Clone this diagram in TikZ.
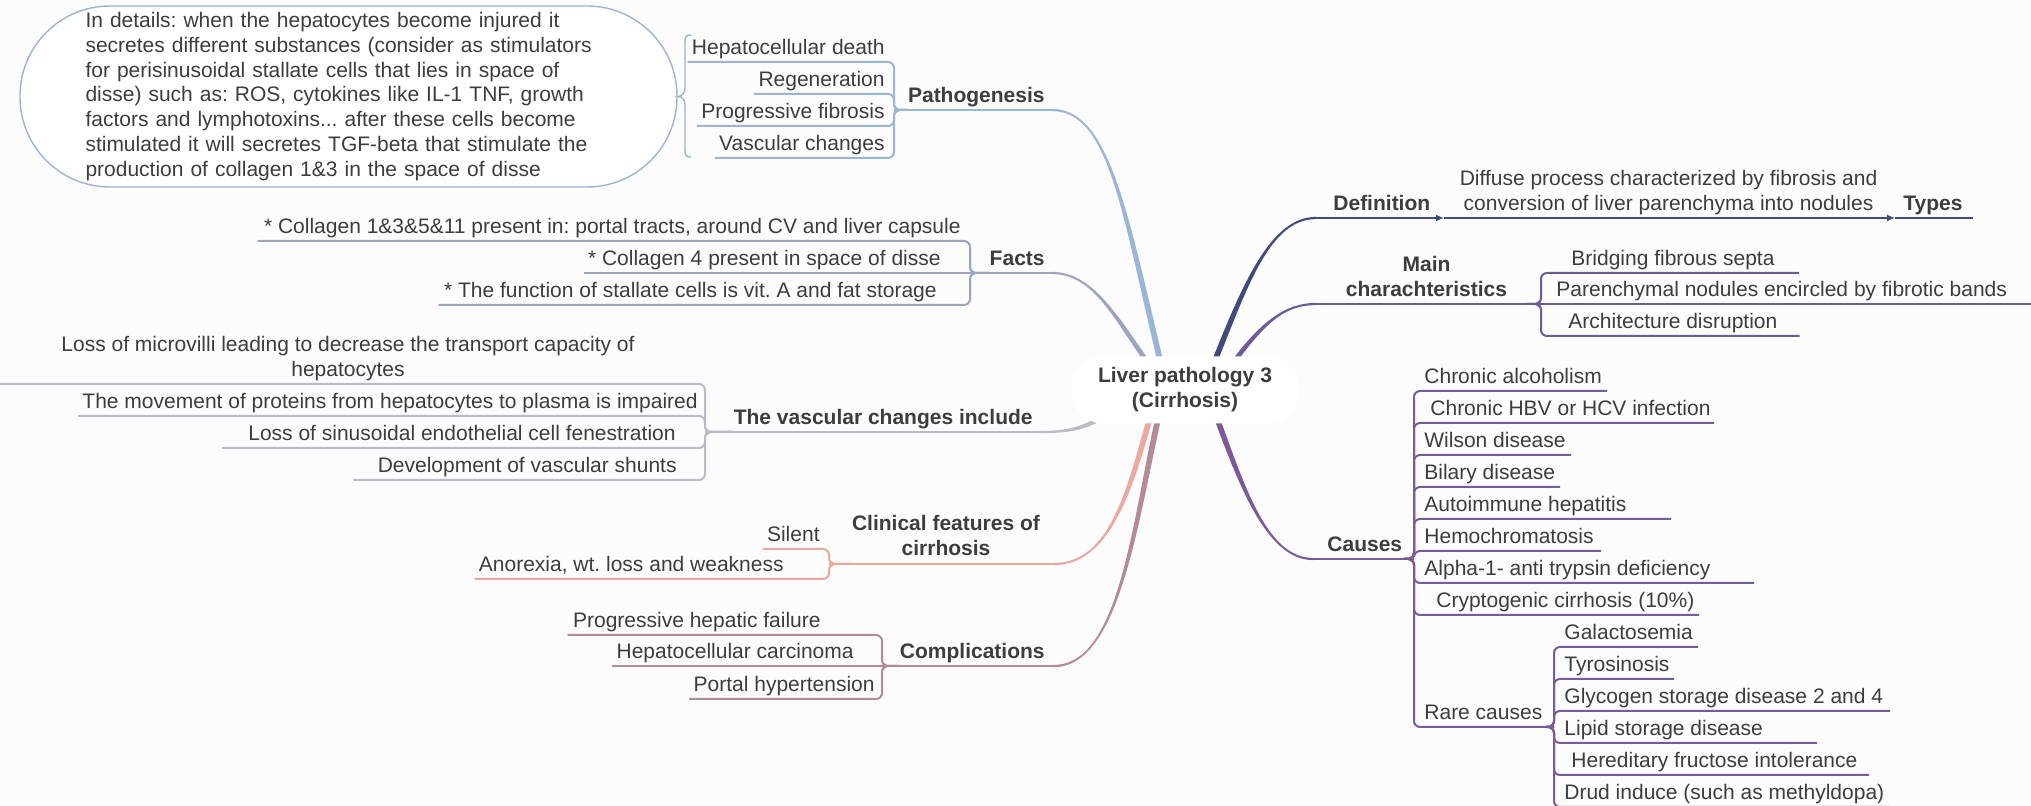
\documentclass[tikz,border=0pt]{standalone}
\usepackage{fontspec}
\setmainfont{Liberation Sans}
\usetikzlibrary{calc,arrows.meta}
\definecolor{bg}{HTML}{FCFCFD}
\definecolor{txt}{HTML}{3D3D3D}
\definecolor{cPath}{HTML}{9AB5D6}
\definecolor{cFact}{HTML}{9BA4C1}
\definecolor{cVasc}{HTML}{BDB9C6}
\definecolor{cClin}{HTML}{EBA89E}
\definecolor{cComp}{HTML}{B38A96}
\definecolor{cDef}{HTML}{414A7C}
\definecolor{cMain}{HTML}{6B5B9C}
\definecolor{cCause}{HTML}{7B5A97}
\frenchspacing
\tikzset{
 ch/.style={inner sep=0pt, text height=7.7pt, text depth=3.5pt, font=\fontsize{10.5}{12.5}\selectfont, text=txt},
 par/.style={inner sep=0pt, text height=7.7pt, text depth=3.5pt, font=\bfseries\fontsize{10.5}{12.5}\selectfont, text=txt},
 parm/.style={inner sep=0pt, align=center, font=\bfseries\fontsize{10.5}{12.5}\selectfont, text=txt},
 chm/.style={inner sep=0pt, align=center, font=\fontsize{10.5}{12.5}\selectfont, text=txt},
 ul/.style={line width=1pt, rounded corners=3pt},
 topline/.style={line width=1pt},
 ptr/.style={line width=1pt, -{Latex[length=4pt,width=3.5pt]}},
}
% tapered main branch: color, start, c1, c2, end, start offset, end offset
\newcommand\taper[7]{%
  \fill[#1] ($(#2)+(#6)$) .. controls ($(#3)+(#6)$) and ($(#4)+(#7)$) .. ($(#5)+(#7)$)
     -- ($(#5)-(#7)$) .. controls ($(#4)-(#7)$) and ($(#3)-(#6)$) .. ($(#2)-(#6)$) -- cycle;}
\newcommand\knob[2]{\fill[#1] (#2) circle[radius=2.6];}
\begin{document}
\begin{tikzpicture}[x=0.5pt,y=-0.5pt]
\useasboundingbox (0,0) rectangle (2031,806);
\fill[bg] (0,0) rectangle (2031,806);
\clip (0,0) rectangle (2031,806);
\coordinate (rootc) at (1185,390);

% ---------------- main branches ----------------
\coordinate (pE) at (1052,110);
\coordinate (fE) at (1052,273);
\coordinate (vE) at (1040,432);
\coordinate (cE) at (1054,564);
\coordinate (mE) at (1054,666);
\coordinate (dE) at (1316,218);
\coordinate (mcE) at (1316,304);
\coordinate (caE) at (1313,559);

\taper{cPath}{$(rootc)+(-23,-22)$}{1125,215}{1110,110}{pE}{3,0}{0,-1.1}
\taper{cFact}{$(rootc)+(-32,-20)$}{1118,322}{1095,273}{fE}{3,0}{0,-1.1}
\taper{cVasc}{$(rootc)+(-75,22)$}{1085,430}{1065,432}{vE}{1.4,1.9}{0,1.1}
\taper{cClin}{$(rootc)+(-33,20)$}{1130,490}{1110,564}{cE}{3,0}{0,1.1}
\taper{cComp}{$(rootc)+(-25,20)$}{1135,520}{1120,666}{mE}{3,0}{0,1.1}
\taper{cDef}{$(rootc)+(27,-22)$}{1245,285}{1270,218}{dE}{-3,0}{0,-1.1}
\taper{cMain}{$(rootc)+(43,-20)$}{1262,322}{1285,304}{mcE}{-3,0}{0,-1.1}
\taper{cCause}{$(rootc)+(27,15)$}{1240,480}{1265,559}{caE}{-3,0}{0,1.1}

% ---------------- Pathogenesis ----------------
\node[par, anchor=south east] (path) at (1045,110) {Pathogenesis};
\coordinate (pT) at (894,110);
\draw[cPath, topline] (pT) -- (pE);
\node[ch, anchor=south east] (p1) at (885,62) {Hepatocellular death};
\node[ch, anchor=south east] (p2) at (885,94) {Regeneration};
\node[ch, anchor=south east] (p3) at (885,126) {Progressive fibrosis};
\node[ch, anchor=south east] (p4) at (885,158) {Vascular changes};
\foreach \n in {p1,p2,p3,p4}
  \draw[cPath, ul] ($(\n.south west)+(-4,0)$) -- (\n.south -| pT) -- (pT) -- (path.south west);
\knob{cPath}{$(pT)+(2.5,0)$}

\node[draw=cPath, line width=0.7pt, fill=white, rounded corners=45pt, minimum width=328.5pt,
  minimum height=90.5pt, inner sep=0pt, text width=263pt, align=left,
  font=\fontsize{10.5}{12.4}\selectfont, text=txt] (sum) at (348.5,96.5)
  {In details: when the hepatocytes become injured it\\
   secretes different substances (consider as stimulators\\
   for perisinusoidal stallate cells that lies in space of\\
   disse) such as: ROS, cytokines like IL-1 TNF, growth\\
   factors and lymphotoxins... after these cells become\\
   stimulated it will secretes TGF-beta that stimulate the\\
   production of collagen 1\&3 in the space of disse};
\coordinate (brT) at (691,35);
\coordinate (brB) at (691,157);
\draw[cPath, line width=0.7pt] (brT) .. controls (686,35) and (685,37) .. (685,42) -- (685,88)
  .. controls (685,93) and (682,96.5) .. (sum.east)
  .. controls (682,96.5) and (685,100) .. (685,105) -- (685,150)
  .. controls (685,155) and (686,157) .. (brB);

% ---------------- Facts ----------------
\node[par, anchor=south east] (facts) at (1045,273) {Facts};
\coordinate (fT) at (970,273);
\draw[cFact, topline] (fT) -- (fE);
\node[ch, anchor=south east] (f1) at (961,241) {* Collagen 1\&3\&5\&11 present in: portal tracts, around CV and liver capsule};
\node[ch, anchor=south east] (f2) at (941,273) {* Collagen 4 present in space of disse};
\node[ch, anchor=south east] (f3) at (937,305) {* The function of stallate cells is vit. A and fat storage};
\draw[cFact, ul] ($(f1.south west)+(-6,0)$) -- (f1.south -| fT) -- (fT) -- (facts.south west);
\draw[cFact, ul] ($(f2.south west)+(-4,0)$) -- (fT);
\draw[cFact, ul] ($(f3.south west)+(-5,0)$) -- (f3.south -| fT) -- (fT) -- (facts.south west);
\knob{cFact}{$(fT)+(2.5,0)$}

% ---------------- Vascular changes ----------------
\node[par, anchor=south east] (vas) at (1033,432) {The vascular changes include};
\coordinate (vT) at (705,432);
\draw[cVasc, topline] (vT) -- (vE);
\node[chm] (v1) at (348,359) {Loss of microvilli leading to decrease the transport capacity of\\hepatocytes};
\coordinate (v1L) at (0,384);
\node[ch, anchor=south east] (v2) at (698,416) {The movement of proteins from hepatocytes to plasma is impaired};
\node[ch, anchor=south east] (v3) at (676,448) {Loss of sinusoidal endothelial cell fenestration};
\node[ch, anchor=south east] (v4) at (677,480) {Development of vascular shunts};
\draw[cVasc, ul] (v1L) -- (v1L -| vT) -- (vT) -- (vas.south west);
\draw[cVasc, ul] ($(v2.south west)+(-4,0)$) -- (v2.south -| vT) -- (vT) -- (vas.south west);
\draw[cVasc, ul] ($(v3.south west)+(-26,0)$) -- (v3.south -| vT) -- (vT) -- (vas.south west);
\draw[cVasc, ul] ($(v4.south west)+(-24,0)$) -- (v4.south -| vT) -- (vT) -- (vas.south west);
\knob{cVasc}{$(vT)+(2.5,0)$}

% ---------------- Clinical features ----------------
\node[parm] (clin) at (946,535) {Clinical features of\\cirrhosis};
\coordinate (cT) at (829,564);
\draw[cClin, topline] (cT) -- (cE);
\node[ch, anchor=south east] (c1) at (820,549) {Silent};
\node[ch, anchor=south east] (c2) at (784,579) {Anorexia, wt. loss and weakness};
\draw[cClin, ul] ($(c1.south west)+(-4,0)$) -- (c1.south -| cT) -- (cT) -- (cT -| clin.west);
\draw[cClin, ul] ($(c2.south west)+(-4,0)$) -- (c2.south -| cT) -- (cT) -- (cT -| clin.west);
\knob{cClin}{$(cT)+(2.5,0)$}

% ---------------- Complications ----------------
\node[par, anchor=south east] (comp) at (1045,666) {Complications};
\coordinate (mT) at (882,666);
\draw[cComp, topline] (mT) -- (mE);
\node[ch, anchor=south east] (k1) at (821,635) {Progressive hepatic failure};
\node[ch, anchor=south east] (k2) at (854,666) {Hepatocellular carcinoma};
\node[ch, anchor=south east] (k3) at (875,699) {Portal hypertension};
\draw[cComp, ul] ($(k1.south west)+(-5,0)$) -- (k1.south -| mT) -- (mT) -- (comp.south west);
\draw[cComp, ul] ($(k2.south west)+(-4,0)$) -- (mT);
\draw[cComp, ul] ($(k3.south west)+(-4,0)$) -- (k3.south -| mT) -- (mT) -- (comp.south west);
\knob{cComp}{$(mT)+(2.5,0)$}

% ---------------- Definition ----------------
\node[par, anchor=south west] (def) at (1333,218) {Definition};
\coordinate (dA) at (1444,218);
\node[chm] (dd) at (1668.5,193) {Diffuse process characterized by fibrosis and\\conversion of liver parenchyma into nodules};
\coordinate (dB) at (1895,218);
\node[par, anchor=south west] (types) at (1903,218) {Types};
\draw[cDef, ptr] (dE) -- (dA);
\draw[cDef, ptr] (dA) -- (dB);
\draw[cDef, topline] (dB) -- ($(types.south east)+(10,0)$);

% ---------------- Main characteristics ----------------
\node[parm] (mc) at (1426.5,276) {Main\\charachteristics};
\coordinate (mcT) at (1541,304);
\draw[cMain, topline] (mcE) -- (mcT);
\node[ch, anchor=south west] (m1) at (1571,273) {Bridging fibrous septa};
\node[ch, anchor=south west] (m2) at (1556,304) {Parenchymal nodules encircled by fibrotic bands};
\node[ch, anchor=south west] (m3) at (1568,336) {Architecture disruption};
\draw[cMain, ul] ($(mcT)+(-14,0)$) -- (mcT) -- (m1.south -| mcT) -- ($(m1.south east)+(24,0)$);
\draw[cMain, ul] (mcT) -- ($(m2.south east)+(40,0)$);
\draw[cMain, ul] ($(mcT)+(-14,0)$) -- (mcT) -- (m3.south -| mcT) -- ($(m3.south east)+(22,0)$);
\knob{cMain}{$(mcT)+(-2.5,0)$}

% ---------------- Causes ----------------
\node[par, anchor=south west] (cau) at (1327,559) {Causes};
\coordinate (caT) at (1414,559);
\draw[cCause, topline] (caE) -- (caT);
\node[ch, anchor=south west] (a1) at (1424,391) {Chronic alcoholism};
\node[ch, anchor=south west] (a2) at (1430,423) {Chronic HBV or HCV infection};
\node[ch, anchor=south west] (a3) at (1424,455) {Wilson disease};
\node[ch, anchor=south west] (a4) at (1424,487) {Bilary disease};
\node[ch, anchor=south west] (a5) at (1424,519) {Autoimmune hepatitis};
\node[ch, anchor=south west] (a6) at (1424,551) {Hemochromatosis};
\node[ch, anchor=south west] (a7) at (1424,583) {Alpha-1- anti trypsin deficiency};
\node[ch, anchor=south west] (a8) at (1436,615) {Cryptogenic cirrhosis (10\%)};
\node[ch, anchor=south west] (rare) at (1424,727) {Rare causes};
\foreach \n/\l in {a1/183,a2/290,a3/147,a4/136,a5/247,a6/177,a7/330,a8/275}
  \draw[cCause, ul] ($(caT)+(-10,0)$) -- (caT) -- (\n.south -| caT) -- ($(\n.south -| caT)+(\l+10,0)$);
\coordinate (rcT) at (1554,727);
\draw[cCause, ul] ($(caT)+(-10,0)$) -- (caT) -- (rare.south -| caT) -- (rcT);
\knob{cCause}{$(caT)+(-2.5,0)$}
\node[ch, anchor=south west] (r1) at (1564,647) {Galactosemia};
\node[ch, anchor=south west] (r2) at (1564,679) {Tyrosinosis};
\node[ch, anchor=south west] (r3) at (1564,711) {Glycogen storage disease 2 and 4};
\node[ch, anchor=south west] (r4) at (1564,743) {Lipid storage disease};
\node[ch, anchor=south west] (r5) at (1571,775) {Hereditary fructose intolerance};
\node[ch, anchor=south west] (r6) at (1564,807) {Drud induce (such as methyldopa)};
\foreach \n/\l in {r1/144,r2/120,r3/336,r4/263,r5/315,r6/336}
  \draw[cCause, ul] ($(rcT)+(-8,0)$) -- (rcT) -- (\n.south -| rcT) -- ($(\n.south -| rcT)+(\l,0)$);
\knob{cCause}{$(rcT)+(-2.5,0)$}

% ---------------- central topic ----------------
\node[fill=white, rounded corners=16pt, minimum width=113.5pt, minimum height=33.5pt, inner sep=0pt,
  align=center, font=\bfseries\fontsize{10.5}{12.5}\selectfont, text=txt] (root) at (rootc)
  {Liver pathology 3\\(Cirrhosis)};
\end{tikzpicture}
\end{document}
